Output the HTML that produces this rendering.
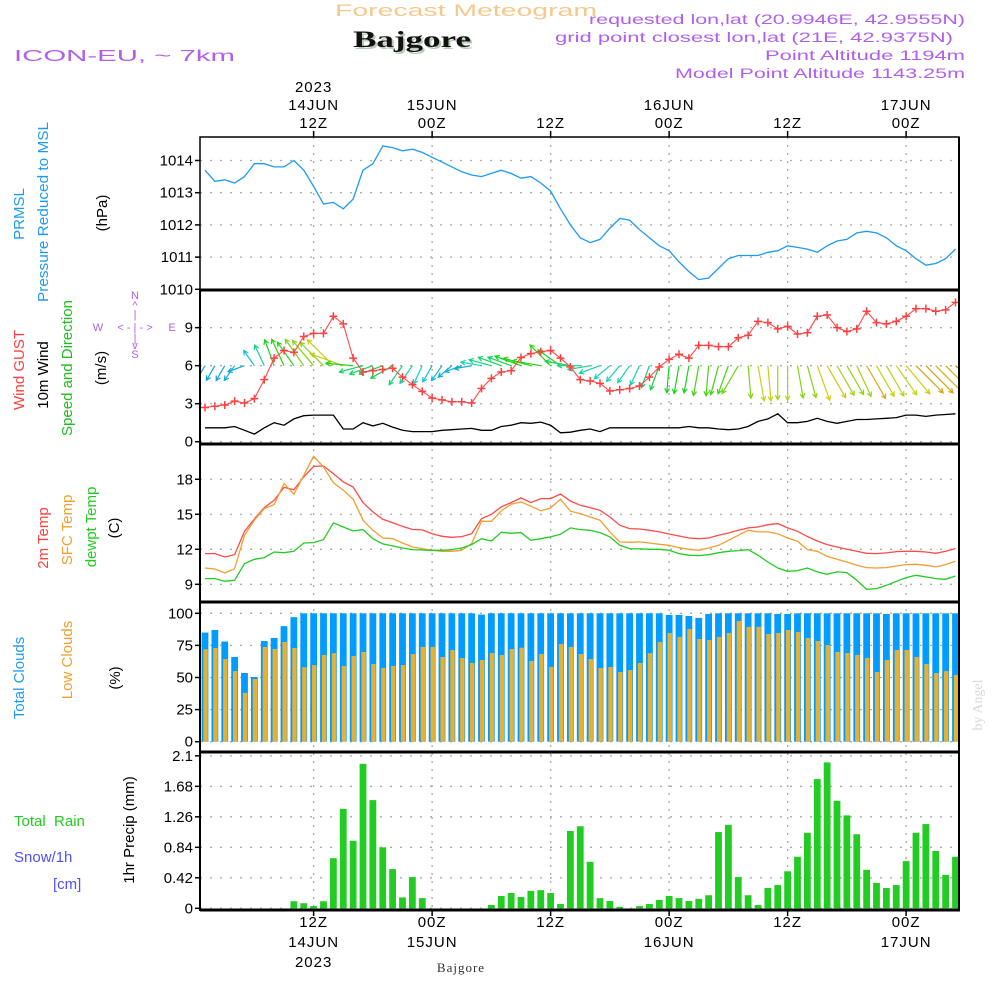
<!DOCTYPE html>
<html><head><meta charset="utf-8"><style>
html,body{margin:0;padding:0;background:#fff;}
svg{display:block;font-family:"Liberation Sans",sans-serif;}
</style></head><body>
<svg id="chart" xmlns="http://www.w3.org/2000/svg" width="1000" height="1000" viewBox="0 0 1000 1000">
<rect width="1000" height="1000" fill="#fff"/>
<g id="grid"></g>
<g id="marks"></g>
<g id="frame"></g>
<g id="ticks" font-size="15" fill="#000"></g>

<text x="335" y="16" font-size="17" fill="#f5c98e" textLength="262" lengthAdjust="spacingAndGlyphs">Forecast Meteogram</text>
<text x="355" y="49" font-size="23" font-weight="bold" font-family="Liberation Serif,serif" fill="#b9c9b9" textLength="118" lengthAdjust="spacingAndGlyphs">Bajgore</text>
<text x="353" y="47" font-size="23" font-weight="bold" font-family="Liberation Serif,serif" fill="#111" textLength="118" lengthAdjust="spacingAndGlyphs">Bajgore</text>
<text x="14" y="61" font-size="16" fill="#b060e8" textLength="221" lengthAdjust="spacingAndGlyphs">ICON-EU, ~ 7km</text>
<g font-size="14" fill="#b060e8" text-anchor="end">
<text x="965" y="24" textLength="376" lengthAdjust="spacingAndGlyphs">requested lon,lat (20.9946E, 42.9555N)</text>
<text x="953" y="42" textLength="398" lengthAdjust="spacingAndGlyphs">grid point closest lon,lat (21E, 42.9375N)</text>
<text x="965" y="60" textLength="200" lengthAdjust="spacingAndGlyphs">Point Altitude 1194m</text>
<text x="965" y="78" textLength="290" lengthAdjust="spacingAndGlyphs">Model Point Altitude 1143.25m</text>
</g>

<g font-size="15" text-anchor="middle">
<text transform="translate(24,214) rotate(-90)" fill="#1e9bf0">PRMSL</text>
<text transform="translate(48,212) rotate(-90)" fill="#1e9bf0" textLength="180" lengthAdjust="spacingAndGlyphs">Pressure Reduced to MSL</text>
<text transform="translate(107,213) rotate(-90)" fill="#000">(hPa)</text>
<text transform="translate(24,370) rotate(-90)" fill="#ff4040">Wind GUST</text>
<text transform="translate(48,375) rotate(-90)" fill="#000">10m Wind</text>
<text transform="translate(72,368) rotate(-90)" fill="#22bb22">Speed and Direction</text>
<text transform="translate(106,368) rotate(-90)" fill="#000">(m/s)</text>
<text transform="translate(48,538) rotate(-90)" fill="#ff4040">2m Temp</text>
<text transform="translate(72,530) rotate(-90)" fill="#f0a030">SFC Temp</text>
<text transform="translate(96,527) rotate(-90)" fill="#22cc22">dewpt Temp</text>
<text transform="translate(119,528) rotate(-90)" fill="#000">(C)</text>
<text transform="translate(24,678) rotate(-90)" fill="#1e9bf0">Total Clouds</text>
<text transform="translate(72,660) rotate(-90)" fill="#f0a030">Low Clouds</text>
<text transform="translate(120,678) rotate(-90)" fill="#000">(%)</text>
<text transform="translate(134,830) rotate(-90)" fill="#000">1hr Precip (mm)</text>
</g>
<g font-size="15">
<text x="14" y="826" fill="#22cc22" xml:space="preserve">Total  Rain</text>
<text x="14" y="862" fill="#5050ff">Snow/1h</text>
<text x="53" y="889" fill="#5050ff">[cm]</text>
</g>
<g font-size="11" fill="#b060e8" text-anchor="middle">
<text x="135" y="299">N</text><text x="135" y="309">^</text><text x="135" y="318">|</text>
<text x="98" y="331">W</text><text x="135" y="331">&lt; - | - &gt;</text><text x="172" y="331">E</text>
<text x="135" y="342">|</text><text x="135" y="349">v</text><text x="135" y="358">S</text>
</g>
<text transform="translate(982,705) rotate(-90)" font-size="14" font-family="Liberation Serif,serif" fill="#d8d8d8" text-anchor="middle">by Angel</text>
<text x="461" y="972" font-size="13" font-family="Liberation Serif,serif" fill="#333" text-anchor="middle" letter-spacing="1">Bajgore</text>
</svg>
<script>
var pressure=[1013.7,1013.35,1013.4,1013.3,1013.5,1013.9,1013.9,1013.8,1013.8,1014.0,1013.7,1013.2,1012.65,1012.7,1012.5,1012.8,1013.7,1013.9,1014.45,1014.4,1014.3,1014.35,1014.25,1014.1,1013.95,1013.8,1013.65,1013.55,1013.5,1013.6,1013.7,1013.6,1013.45,1013.5,1013.3,1013.05,1012.5,1012.0,1011.6,1011.45,1011.55,1011.9,1012.2,1012.15,1011.85,1011.6,1011.35,1011.2,1010.85,1010.55,1010.3,1010.35,1010.65,1010.95,1011.05,1011.05,1011.05,1011.15,1011.2,1011.35,1011.3,1011.25,1011.15,1011.35,1011.5,1011.55,1011.75,1011.8,1011.75,1011.6,1011.35,1011.2,1010.95,1010.75,1010.8,1010.95,1011.25];
var windSpeed=[1.1,1.1,1.1,1.2,0.9,0.6,1.1,1.5,1.3,1.8,2.05,2.1,2.1,2.1,1.0,1.0,1.5,1.25,1.45,1.15,0.9,0.8,0.8,0.8,0.9,0.95,1.0,1.05,0.9,0.9,1.2,1.3,1.5,1.45,1.55,1.3,0.7,0.75,0.9,1.0,0.8,1.1,1.1,1.1,1.1,1.1,1.1,1.1,1.1,1.2,1.1,1.1,1.0,0.95,1.0,1.2,1.6,1.8,2.2,1.5,1.5,1.6,1.85,1.6,1.45,1.6,1.75,1.75,1.8,1.85,1.9,2.1,2.1,2.0,2.1,2.15,2.2];
var windGust=[2.7,2.8,2.9,3.2,3.05,3.4,4.9,6.6,7.2,7.05,8.3,8.55,8.55,9.9,9.3,6.6,5.5,5.6,5.7,5.8,5.1,4.5,3.97,3.45,3.3,3.15,3.15,3.05,4.2,5.0,5.5,5.6,6.65,6.95,7.1,7.2,6.6,5.9,4.9,4.8,4.6,4.0,4.1,4.2,4.4,5.1,5.9,6.5,6.9,6.6,7.6,7.6,7.5,7.5,8.2,8.4,9.5,9.4,8.9,9.1,8.5,8.6,9.9,10.0,9.0,8.7,8.9,10.3,9.4,9.3,9.5,9.9,10.5,10.5,10.3,10.4,11.0];
var windToDir=[210,210,210,215,250,325,335,340,335,325,325,320,315,315,290,275,255,250,250,240,215,215,205,210,215,230,250,260,280,285,290,290,290,285,280,315,305,280,270,260,250,230,220,215,205,200,200,185,190,190,190,185,195,200,210,175,170,175,180,180,170,165,160,150,150,150,155,150,150,150,145,140,135,135,135,135,130];
var temp2m=[11.63,11.63,11.34,11.54,13.54,14.6,15.57,16.2,17.3,17.1,18.2,19.1,19.14,18.49,17.77,17.34,16.0,15.2,14.57,14.28,13.97,13.7,13.66,13.34,13.11,13.03,13.09,13.34,14.63,15.0,15.63,16.0,16.4,16.0,16.34,16.34,16.74,16.14,15.77,15.57,15.34,14.77,14.06,13.77,13.74,13.63,13.49,13.31,13.14,12.97,12.91,12.97,13.2,13.4,13.63,13.83,13.91,14.11,14.2,13.83,13.54,13.09,12.71,12.4,12.2,12.0,11.83,11.66,11.63,11.69,11.8,11.83,11.83,11.77,11.66,11.83,12.06];
var tempSfc=[10.4,10.31,9.97,10.34,13.2,14.49,15.49,15.83,17.63,16.71,18.34,19.97,19.06,17.71,17.06,16.29,14.49,13.63,12.97,12.91,12.54,12.2,12.06,11.91,11.83,11.83,11.91,12.49,14.4,14.4,15.29,15.86,16.06,15.69,15.31,15.54,16.29,15.26,15.06,14.77,14.49,13.49,12.63,12.6,12.63,12.54,12.43,12.34,12.14,12.0,11.91,12.11,12.34,12.77,13.2,13.63,13.49,13.49,13.34,12.97,12.69,11.97,11.83,11.4,11.14,10.91,10.63,10.43,10.4,10.43,10.57,10.69,10.71,10.63,10.49,10.69,10.97];
var dewpt=[9.49,9.49,9.26,9.34,10.77,11.14,11.29,11.77,11.71,11.83,12.54,12.57,12.83,14.26,13.91,13.57,13.69,12.91,12.46,12.29,12.11,11.97,11.94,11.91,11.91,11.97,12.11,12.4,12.91,12.71,13.46,13.37,13.43,12.77,12.91,13.06,13.29,13.83,13.69,13.63,13.43,13.06,12.34,12.06,12.03,12.0,12.0,11.91,11.63,11.49,11.46,11.54,11.71,11.83,11.89,11.97,11.49,10.91,10.4,10.11,10.17,10.4,10.06,9.86,10.06,10.0,9.34,8.57,8.63,8.91,9.26,9.57,9.77,9.63,9.49,9.43,9.71];
var totalClouds=[85,87,78,66,53.5,50.4,78.4,80.8,90,97,100,100,100,100,100,100,100,100,100,100,100,100,100,100,100,100,100,100,99,100,100,100,100,100,100,100,100,100,100,100,100,100,100,100,100,100,100,98.7,98.7,97.9,96.4,99.5,100,100,100,100,100,100,99.5,99.5,100,100,100,100,100,100,100,100,100,99.5,100,100,100,100,100,100,100];
var lowClouds=[72,73,64.4,55,38,48.8,73.8,72.2,77.7,73,58,59.7,67.5,69,59,66.7,69.9,60.5,57.4,59,59.7,68.3,73.8,73.8,66,71.4,65.2,61.3,63.6,69,67.5,72.2,73.2,62.9,68.3,58.2,76.1,73.8,68.3,64.4,57.4,58.2,54.3,55.8,61.3,69,77.7,84.7,81.6,87.8,80,79.2,81.6,84.7,94,89.4,89.4,83.9,84.7,87,85.5,80.8,78.4,75.3,69.9,69.1,67.5,65.2,54.3,63.6,71.4,71.4,66,60.5,53.5,55,52];
var precip=[0,0,0,0,0,0,0,0,0,0.097,0.07,0.03,0.097,0.69,1.37,0.93,1.99,1.49,0.84,0.54,0.15,0.43,0.14,0,0,0,0,0,0,0.046,0.17,0.21,0.156,0.24,0.25,0.21,0.06,1.065,1.13,0.64,0.14,0.1,0.02,0,0.03,0.06,0.115,0.17,0.14,0.1,0.13,0.18,1.05,1.15,0.43,0.18,0.046,0.28,0.32,0.51,0.71,1.04,1.78,2.01,1.48,1.28,1.02,0.53,0.35,0.28,0.32,0.65,1.04,1.16,0.79,0.46,0.71];
var pressTicks=[1010,1011,1012,1013,1014];
var windTicks=[0,3,6,9];
var tempTicks=[9,12,15,18];
var cloudTicks=[0,25,50,75,100];
var precipTicks=["0","0.42","0.84","1.26","1.68","2.1"];
var timeTicksHour=[12,24,36,48,60,72];
var timeTopLabels=[["2023","14JUN","12Z"],["","15JUN","00Z"],["","","12Z"],["","16JUN","00Z"],["","","12Z"],["","17JUN","00Z"]];
var timeBottomLabels=[["12Z","14JUN","2023"],["00Z","15JUN",""],["12Z","",""],["00Z","16JUN",""],["12Z","",""],["00Z","17JUN",""]];
var firstHour=1;

var NS="http://www.w3.org/2000/svg";
var L=200,R=959;
function xH(h){return 205+(h-firstHour)*9.875;}
function xI(i){return xH(firstHour+i);}
function yP(p){return 289.3-(p-1010)*32.2;}
function yW(v){return 441.7-v*12.67;}
function yT(t){return 584.3-(t-9)*11.67;}
function yC(c){return 741.7-c*1.284;}
function yR(r){return 908.3-r*72.6;}
function mk(tag,attrs,parent){var e=document.createElementNS(NS,tag);for(var k in attrs)e.setAttribute(k,attrs[k]);parent.appendChild(e);return e;}
var grid=document.getElementById('grid'),marks=document.getElementById('marks'),frame=document.getElementById('frame'),ticks=document.getElementById('ticks');
var panels=[[137,290],[290,444],[444,602],[602,752],[752,910]];
function hgrid(y){var l=mk('line',{x1:L,x2:R,y1:y,y2:y,stroke:'#aaa','stroke-width':1.3,'stroke-dasharray':'2,8'},grid);

}
function ylab(y,t){var tx=mk('text',{x:193,y:y+5,'text-anchor':'end'},ticks);tx.textContent=t;


var tk=mk('line',{x1:L-5,x2:L,y1:y,y2:y,stroke:'#000','stroke-width':1.5},frame);

}
pressTicks.forEach(function(v){hgrid(yP(v));ylab(yP(v),String(v));});
windTicks.forEach(function(v){hgrid(yW(v));ylab(yW(v),String(v));});
tempTicks.forEach(function(v){hgrid(yT(v));ylab(yT(v),String(v));});
cloudTicks.forEach(function(v){hgrid(yC(v));ylab(yC(v),String(v));});
precipTicks.forEach(function(v){hgrid(yR(parseFloat(v)));ylab(yR(parseFloat(v)),v);});
timeTicksHour.forEach(function(h,k){var x=xH(h);
var vl=mk('line',{x1:x,x2:x,y1:137,y2:910,stroke:'#aaa','stroke-width':1.3,'stroke-dasharray':'2,6'},grid);


mk('line',{x1:x,x2:x,y1:131,y2:137,stroke:'#000','stroke-width':1.5},frame);
mk('line',{x1:x,x2:x,y1:910,y2:916,stroke:'#000','stroke-width':1.5},frame);
[92,110,128].forEach(function(y,j){var s=timeTopLabels[k][j];if(!s)return;var t=mk('text',{x:x,y:y,'text-anchor':'middle','letter-spacing':1},ticks);t.textContent=s;

});
[927,947,967].forEach(function(y,j){var s=timeBottomLabels[k][j];if(!s)return;var t=mk('text',{x:x,y:y,'text-anchor':'middle','letter-spacing':1},ticks);t.textContent=s;

});
});
var defs=mk('defs',{},marks);var cp=mk('clipPath',{id:'pc'},defs);mk('rect',{x:L,y:137,width:R-L,height:773},cp);
var mg=mk('g',{'clip-path':'url(#pc)'},marks);
function line(arr,yf,color,name,w){var d='';arr.forEach(function(v,i){d+=(i?'L':'M')+xI(i).toFixed(1)+','+yf(v).toFixed(1);});
var p=mk('path',{d:d,fill:'none',stroke:color,'stroke-width':w||1.3},mg);

return p;}
totalClouds.forEach(function(v,i){var x=xI(i);var b=mk('rect',{x:x-3.4,y:yC(v),width:6.8,height:yC(0)-yC(v),fill:'#009cff'},mg);

});
lowClouds.forEach(function(v,i){var x=xI(i);var b=mk('rect',{x:x-1.6,y:yC(v),width:4.4,height:yC(0)-yC(v),fill:'#e8b030'},mg);

});
precip.forEach(function(v,i){if(v<=0)return;var x=xI(i);var b=mk('rect',{x:x-3.4,y:yR(v),width:6.8,height:yR(0)-yR(v),fill:'#22cc22'},mg);

});
line(pressure,yP,'#1e9bf0','pressure-line',1.3);
line(windSpeed,yW,'#000','wind-speed-line',1.3);
line(temp2m,yT,'#ff4a4a','temp-2m-line',1.3);
line(tempSfc,yT,'#f0a030','temp-sfc-line',1.3);
line(dewpt,yT,'#22cc22','dewpt-line',1.3);
function gustColor(g){var h=Math.max(25,Math.min(195,195-(g-3)*20));return 'hsl('+h+',85%,45%)';}
windToDir.forEach(function(d,i){var g=windGust[i];var len=9+2.8*g;var r=d*Math.PI/180;
var x0=xI(i),y0=yW(6),x1=x0+Math.sin(r)*len,y1=y0-Math.cos(r)*len;
var a=Math.atan2(y1-y0,x1-x0),hl=5;
var d2='M'+x0+','+y0+'L'+x1+','+y1+'M'+(x1-hl*Math.cos(a-0.5))+','+(y1-hl*Math.sin(a-0.5))+'L'+x1+','+y1+'L'+(x1-hl*Math.cos(a+0.5))+','+(y1-hl*Math.sin(a+0.5));
var p=mk('path',{d:d2,fill:'none',stroke:gustColor(g),'stroke-width':1.2},mg);

});
line(windGust,yW,'#ff4a4a','gust-line',1.1);
windGust.forEach(function(v,i){var x=xI(i),y=yW(v);var p=mk('path',{d:'M'+(x-4)+','+y+'H'+(x+4)+'M'+x+','+(y-4)+'V'+(y+4),stroke:'#ff4040','stroke-width':1.5},mg);

});
panels.forEach(function(p,k){var r=mk('rect',{x:L,y:p[0],width:R-L,height:p[1]-p[0],fill:'none',stroke:'#000','stroke-width':k==0?1.5:2},frame);

});
[290,444,602,752,910].forEach(function(y){mk('line',{x1:L,x2:R+1,y1:y,y2:y,stroke:'#000','stroke-width':3},frame);});
mk('line',{x1:R,x2:R,y1:137,y2:910,stroke:'#000','stroke-width':2},frame);
</script>
</body></html>
